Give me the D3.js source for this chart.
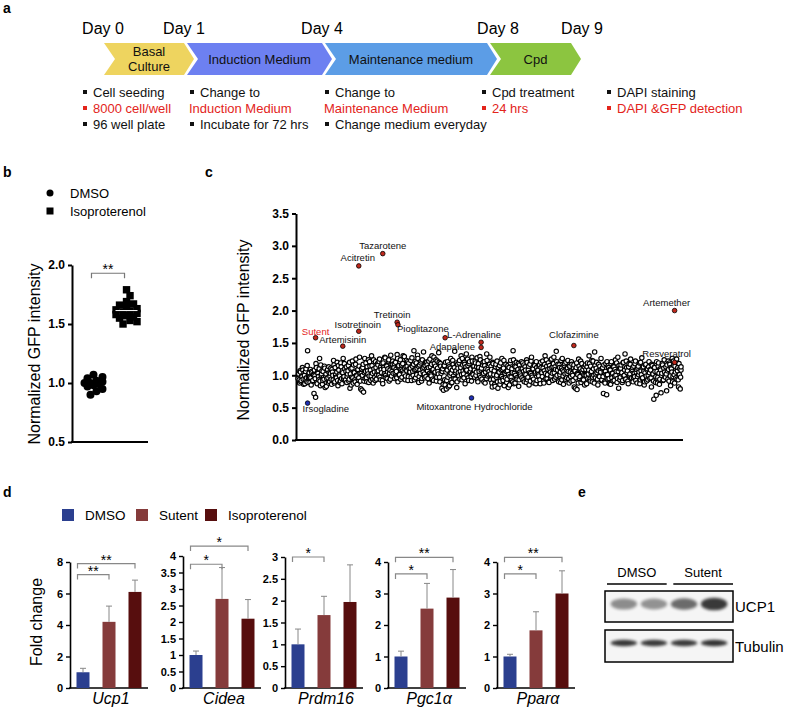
<!DOCTYPE html>
<html><head><meta charset="utf-8">
<script src="https://cdn.jsdelivr.net/npm/d3@7"></script>
<style>body{margin:0;background:#fff} text{font-family:"Liberation Sans",Arial,Helvetica,sans-serif}</style>
</head><body><svg id="fig" width="787" height="712"></svg>
<script>
// ================= DATA =================
// panel a
const dayLabels = ["Day 0","Day 1","Day 4","Day 8","Day 9"];
const dayValues = [0,1,4,8,9];
const phaseNames = [["Basal","Culture"],["Induction Medium"],["Maintenance medium"],["Cpd"]];
const noteColumns = [
  [{t:"Cell seeding",red:false,bullet:true},{t:"8000 cell/well",red:true,bullet:true},{t:"96 well plate",red:false,bullet:true}],
  [{t:"Change to",red:false,bullet:true},{t:"Induction Medium",red:true,bullet:false},{t:"Incubate for 72 hrs",red:false,bullet:true}],
  [{t:"Change to",red:false,bullet:true},{t:"Maintenance Medium",red:true,bullet:false},{t:"Change medium everyday",red:false,bullet:true}],
  [{t:"Cpd treatment",red:false,bullet:true},{t:"24 hrs",red:true,bullet:true}],
  [{t:"DAPI staining",red:false,bullet:true},{t:"DAPI &GFP detection",red:true,bullet:true}]
];
// panel b
const bGroups = ["DMSO","Isoproterenol"];
const bDmso = [1.07,1.05,1.04,1.02,1.01,1.0,1.0,0.99,0.98,0.97,0.95,0.93,0.90];
const bIso = [1.79,1.74,1.69,1.67,1.66,1.64,1.63,1.62,1.61,1.60,1.59,1.58,1.57,1.56,1.55,1.53,1.52,1.50];
const bTicks = [0.5,1.0,1.5,2.0];
// panel c  (two interleaved sets of screening wells, read left to right)
const cTicks = [0,0.5,1,1.5,2,2.5,3,3.5];
const screenValues = [
0.95,1.02,0.88,1.05,0.92,0.98,1.08,0.86,1.00,0.94,1.10,0.90,1.38,0.97,1.04,0.89,0.96,1.06,0.91,1.01,
0.72,0.99,0.66,1.12,0.87,1.03,0.93,1.26,0.84,1.00,1.07,0.92,0.97,1.14,0.81,1.02,0.95,1.09,0.88,1.04,
0.98,1.11,0.86,1.05,0.93,1.16,0.90,1.01,0.96,1.20,0.84,1.08,0.99,0.91,1.13,0.87,1.04,0.95,1.18,0.92,
1.06,0.89,1.02,1.15,0.94,0.80,1.10,0.97,1.22,0.88,1.05,0.93,1.17,1.00,0.86,1.09,0.96,1.28,0.91,1.03,
0.77,1.12,0.74,1.04,0.95,1.19,0.90,1.07,1.24,0.99,1.14,0.92,1.30,1.03,0.88,1.10,0.97,1.21,0.94,1.06,
1.16,1.00,1.25,0.93,1.09,1.18,0.87,1.12,1.02,1.27,0.96,1.14,1.05,1.22,0.91,1.08,1.31,0.99,1.17,1.03,
1.12,0.95,1.20,1.06,1.32,0.90,1.15,1.01,1.24,1.09,0.97,1.18,1.04,1.29,0.93,1.13,1.07,1.21,0.98,1.10,
1.05,1.23,0.92,1.14,1.00,1.38,1.08,0.96,1.19,1.11,1.26,0.89,1.16,1.03,1.22,0.95,1.10,1.36,1.02,1.15,
0.98,1.20,1.07,1.12,0.88,1.25,1.01,1.17,0.94,1.09,1.28,1.04,1.14,0.91,1.22,1.06,1.35,0.97,1.18,1.03,
0.80,1.10,0.77,1.15,0.85,1.05,0.92,1.21,0.82,1.13,1.00,1.26,0.88,1.08,1.17,0.95,1.37,1.04,1.19,0.90,
1.11,0.99,1.23,1.06,1.30,0.93,1.16,1.02,1.20,0.87,1.13,1.08,1.25,0.96,1.18,1.04,1.10,0.91,1.22,1.01,
1.14,0.97,1.19,1.05,1.27,0.90,1.12,1.00,1.24,1.08,0.94,1.16,1.03,1.21,0.88,1.10,1.33,0.99,1.15,1.06,
1.28,0.93,1.09,0.82,1.18,1.01,0.86,1.13,0.97,1.22,0.80,1.05,1.15,0.91,1.08,1.26,0.95,1.11,0.84,1.03,
1.17,0.89,1.07,0.81,1.12,0.98,1.23,0.92,1.04,1.38,0.87,1.14,1.00,1.20,0.94,1.09,0.83,1.16,1.02,1.11,
0.96,1.19,1.06,0.90,1.13,1.01,1.24,0.93,1.08,0.85,1.17,1.03,1.28,0.97,1.10,0.88,1.15,1.05,1.21,0.92,
1.08,0.99,1.16,0.87,1.12,1.04,1.22,0.91,1.07,1.30,0.95,1.14,1.01,1.19,0.89,1.10,0.97,1.25,1.03,1.13,
1.28,0.94,1.09,1.37,1.00,1.17,0.90,1.12,1.05,1.23,0.93,1.08,0.86,1.15,1.02,1.20,0.96,1.11,1.06,0.88,
1.14,0.98,1.21,1.03,0.92,1.16,1.07,0.80,1.12,0.78,1.01,1.25,0.95,1.10,0.89,1.18,1.04,0.93,1.13,1.00,
1.09,0.87,1.19,1.02,1.30,0.94,1.14,1.06,0.90,1.22,1.00,1.36,0.96,1.11,1.04,0.85,1.17,0.98,1.08,1.26,
0.93,1.12,0.72,1.05,0.88,1.18,0.70,1.01,1.15,0.95,1.09,0.86,1.21,1.03,0.91,1.13,0.99,1.24,1.06,0.89,
1.28,0.80,1.10,0.97,1.16,1.04,0.92,1.20,1.00,1.33,0.94,1.12,1.07,0.87,1.18,1.02,1.25,0.96,1.09,0.90,
1.14,0.98,1.22,1.05,0.88,1.11,1.01,1.19,0.93,1.07,1.27,0.96,1.13,0.85,1.04,1.17,0.91,1.10,1.00,1.21,
0.95,1.08,0.82,1.15,1.02,0.63,1.12,0.89,0.69,1.06,0.97,1.19,0.86,1.10,0.73,1.03,1.16,0.93,1.24,0.99,
1.13,0.76,1.07,1.22,0.91,1.17,0.84,1.10,1.26,0.98,1.15,0.88,1.05,1.20,0.94,1.12,0.82,1.01,0.79,1.08
];
const screenValuesB = [
1.01,0.93,1.07,0.90,0.99,1.12,0.94,1.03,0.87,1.06,0.96,1.15,0.89,1.02,0.97,1.09,0.85,1.04,0.92,1.00,
1.08,0.95,1.18,0.89,1.05,0.98,1.10,0.91,1.16,1.02,0.86,1.06,0.94,1.11,0.99,0.83,1.07,0.96,1.13,0.90,
1.03,0.94,1.09,1.00,1.23,0.88,1.12,0.97,1.05,0.92,1.15,1.01,0.89,1.19,0.95,1.07,1.26,0.98,1.10,0.93,
1.13,0.98,1.07,0.91,1.20,1.02,0.85,1.11,0.96,1.16,1.04,0.90,1.25,0.99,1.08,0.93,1.14,1.03,0.79,1.10,
1.00,1.17,0.91,1.26,1.06,0.96,1.13,1.02,0.89,1.21,1.08,0.99,1.15,0.94,1.24,1.05,0.92,1.12,1.01,1.18,
1.07,1.21,0.97,1.13,1.04,0.92,1.19,1.09,1.28,1.00,1.15,0.95,1.10,1.24,1.03,0.94,1.17,1.06,1.22,1.12,
1.18,1.04,1.09,0.96,1.26,1.13,1.00,1.21,0.94,1.16,1.07,1.30,1.02,1.11,0.99,1.23,1.14,0.92,1.19,1.05,
1.11,0.97,1.27,1.06,1.17,0.93,1.21,1.09,1.01,1.31,1.14,0.98,1.08,1.19,0.91,1.24,1.05,1.12,0.96,1.20,
1.09,1.16,0.95,1.22,1.03,1.13,0.99,1.30,1.08,0.92,1.18,1.05,1.24,0.97,1.11,1.02,1.20,0.90,1.14,1.07,
1.06,0.86,1.14,0.93,1.20,0.79,1.08,0.97,1.16,0.84,1.11,1.03,0.89,1.23,0.99,1.12,0.94,1.07,0.81,1.17,
1.04,1.19,0.94,1.12,1.01,1.26,1.07,0.96,1.17,1.09,1.33,1.00,1.15,0.92,1.21,1.06,0.98,1.28,1.03,1.13,
1.08,1.22,1.00,1.13,0.93,1.18,1.06,1.29,0.97,1.11,1.02,1.20,0.90,1.15,1.05,0.95,1.23,1.09,1.01,1.17,
1.02,1.14,0.88,1.20,0.94,1.07,0.83,1.17,1.00,0.90,1.12,1.05,0.86,1.19,0.98,1.09,0.92,1.23,1.04,0.96,
1.06,0.94,1.15,1.01,0.85,1.19,0.97,1.10,0.90,1.24,1.03,0.88,1.13,0.96,1.08,1.18,0.93,1.05,0.99,1.21,
1.10,0.93,1.16,1.02,1.08,0.89,1.20,0.97,1.14,1.04,0.91,1.22,1.00,1.09,0.94,1.17,1.03,0.87,1.12,1.06,
1.01,1.14,0.93,1.20,1.06,0.98,1.11,0.88,1.17,1.03,1.24,0.95,1.09,0.90,1.15,1.05,0.99,1.12,0.92,1.18,
1.04,1.13,0.97,1.21,1.08,0.92,1.16,1.01,0.89,1.11,1.26,0.99,1.06,1.18,0.94,1.09,1.03,1.23,0.95,1.14,
1.05,0.91,1.17,1.00,1.11,0.82,1.07,0.96,1.19,1.03,0.88,1.14,0.98,1.22,1.06,0.93,1.09,1.01,0.85,1.16,
1.00,1.13,0.95,1.08,1.18,0.91,1.04,1.23,0.97,1.10,0.88,1.15,1.02,1.20,0.94,1.07,0.99,1.14,1.05,0.92,
1.10,0.98,1.16,0.90,1.06,1.01,1.21,0.94,1.12,0.87,1.08,1.18,0.96,1.03,1.14,0.92,1.09,1.00,1.19,0.95,
1.06,1.15,0.93,1.11,1.02,0.89,1.19,0.99,1.08,0.94,1.22,1.04,0.91,1.13,1.00,1.17,0.95,1.07,1.12,0.97,
1.03,1.18,0.92,1.09,0.98,1.14,1.05,0.87,1.20,1.01,0.95,1.11,1.06,0.90,1.16,0.99,1.08,0.93,1.13,1.04,
1.09,0.96,1.17,1.02,0.91,1.12,1.06,0.98,1.21,0.88,1.14,1.03,0.94,1.08,1.00,1.18,0.92,1.11,1.05,0.97,
1.02,1.16,0.94,1.09,1.19,0.99,1.12,1.05,0.90,1.22,1.01,1.14,0.96,1.25,1.07,0.93,1.18,1.10,0.97,1.13
];
const hitNames   = ["Tazarotene","Acitretin","Isotretinoin","Tretinoin","Pioglitazone","Sutent","Artemisinin","L-Adrenaline","","Adapalene","Irsogladine","Mitoxantrone Hydrochloride","Clofazimine","Artemether","Resveratrol"];
const hitIndex   = [106,76,76,124,125,22,56,184,229,229,12,217,345,471,471];
const hitValues  = [2.88,2.69,1.68,1.82,1.78,1.58,1.45,1.58,1.51,1.43,0.57,0.65,1.46,2.00,1.20];
const hitKind    = ["up","up","up","up","up","up","up","up","up","up","down","down","up","up","up"];
// panel d
const genes = ["Ucp1","Cidea","Prdm16","Pgc1α","Pparα"];
const treatments = ["DMSO","Sutent","Isoproterenol"];
const meanDmso   = [1.0,1.0,1.0,1.0,1.0];
const meanSutent = [4.2,2.7,1.67,2.52,1.83];
const meanIso    = [6.1,2.1,1.97,2.87,3.0];
const errDmso    = [0.25,0.12,0.35,0.17,0.07];
const errSutent  = [1.0,0.95,0.43,0.8,0.59];
const errIso     = [0.75,0.58,0.85,0.89,0.72];
const yMax       = [8,4,3,4,4];
const yStep      = [2,0.5,0.5,1,1];
const sigGene    = [0,0,1,1,2,3,3,4,4];
const sigTarget  = [1,2,1,2,1,1,2,1,2];
const sigLevel   = [7.2,7.9,3.75,4.3,3.0,3.62,4.15,3.62,4.15];
const sigLabel   = ["**","**","*","*","*","*","**","*","**"];
// panel e
const blotGroups = ["DMSO","Sutent"];
const blotProteins = ["UCP1","Tubulin"];
const ucp1Band = [0.5,0.47,0.66,0.9];
const tubulinBand = [0.92,0.90,0.90,0.93];

// ================= STYLE / LAYOUT =================
const RED = "#e3241b";
const phaseColors = ["#eed45f","#6d80f1","#5c9de6","#8cc540"];
const treatColors = ["#2b3f8f","#853b3b","#570e0e"];
const svg = d3.select("#fig");

[["a",3,13],["b",3,177],["c",205,177],["d",3,497],["e",578,497]].forEach(([l,x,y])=>
  svg.append("text").attr("x",x).attr("y",y).attr("font-size",14).attr("font-weight","bold").text(l));

// ---------- panel a ----------
(function(){
  const g = svg.append("g");
  const dayX = d3.scaleLinear().domain(dayValues).range([104,184,322,487,571]);
  const nudge = [-1,0,0,11,11];
  g.selectAll("text.day").data(dayLabels).join("text")
    .attr("x",(d,i)=>dayX(dayValues[i])+nudge[i]).attr("y",34)
    .attr("text-anchor","middle").attr("font-size",16).text(d=>d);
  const TIP=10, NOTCH=11, GAP=3, Y0=43, Y1=75, ym=59;
  phaseNames.forEach((nm,i)=>{
    const x0 = dayX(dayValues[i]) + (i?GAP:0), x1 = dayX(dayValues[i+1]);
    const pts=[[x0,Y0],[x1,Y0],[x1+TIP,ym],[x1,Y1],[x0,Y1],[x0+NOTCH,ym]];
    g.append("path").attr("d", d3.line()(pts)+"Z").attr("fill",phaseColors[i]);
    const cx=(x0+x1+TIP)/2;
    nm.forEach((s,j)=>{
      g.append("text").attr("x",cx).attr("y", ym+4.5 + (j - (nm.length-1)/2)*15)
       .attr("text-anchor","middle").attr("font-size",13).attr("fill","#111").text(s);
    });
  });
  const bulletX = [83,190,325,482,607];
  const rowY = [97,113,129];
  noteColumns.forEach((col,c)=>{
    col.forEach((n,r)=>{
      const col_ = n.red?RED:"#111";
      if(n.bullet){
        g.append("rect").attr("x",bulletX[c]).attr("y",rowY[r]-7).attr("width",4).attr("height",4).attr("fill",col_);
        g.append("text").attr("x",bulletX[c]+10).attr("y",rowY[r]).attr("font-size",13).attr("fill",col_).text(n.t);
      } else {
        g.append("text").attr("x",bulletX[c]-1).attr("y",rowY[r]).attr("font-size",13).attr("fill",col_).text(n.t);
      }
    });
  });
})();

// ---------- panel b ----------
(function(){
  const g = svg.append("g");
  g.append("circle").attr("cx",50).attr("cy",193).attr("r",3.5).attr("fill","#000");
  g.append("text").attr("x",70).attr("y",197.5).attr("font-size",13).text(bGroups[0]);
  g.append("rect").attr("x",46.5).attr("y",207.5).attr("width",7).attr("height",7).attr("fill","#000");
  g.append("text").attr("x",70).attr("y",215.5).attr("font-size",13).text(bGroups[1]);

  const y = d3.scaleLinear().domain([0.5,2.0]).range([442,265]);
  const x = d3.scalePoint().domain(bGroups).range([72,148]).padding(0.65);
  const ax = g.append("g").attr("transform","translate(72,0)")
    .call(d3.axisLeft(y).tickValues(bTicks).tickFormat(d3.format(".1f")).tickSize(4).tickSizeOuter(0));
  ax.select(".domain").attr("stroke-width",2);
  ax.selectAll(".tick line").attr("stroke-width",2);
  ax.selectAll("text").attr("font-size",12).attr("font-weight","bold").attr("font-family",'"Liberation Sans",Arial,sans-serif').attr("fill","#000");
  g.append("line").attr("x1",71).attr("x2",148).attr("y1",442).attr("y2",442).attr("stroke","#000").attr("stroke-width",2);
  g.append("text").attr("transform","translate(40,354) rotate(-90)").attr("text-anchor","middle").attr("font-size",16).text("Normalized GFP intensity");

  function swarm(vals, cx, dmin, step, maxOff){
    const placed=[];
    vals.slice().sort((a,b)=>b-a).forEach(v=>{
      const py=y(v); let best=null, bestD=-1;
      for(let k=0;k<=2*Math.floor(maxOff/step);k++){
        const off=(k%2?1:-1)*Math.ceil(k/2)*step, px=cx+off;
        const dd=placed.length? d3.min(placed,p=>Math.hypot(p[0]-px,p[1]-py)) : 1e9;
        if(dd>=dmin){best=px;bestD=dd;break;}
        if(dd>bestD){bestD=dd;best=px;}
      }
      placed.push([best,py]);
    });
    return placed;
  }
  swarm(bDmso, x("DMSO"), 6.5, 3, 11).forEach(([px,py])=>
    g.append("circle").attr("cx",px).attr("cy",py).attr("r",4).attr("fill","#000"));
  swarm(bIso, x("Isoproterenol"), 6.5, 3.5, 10.5).forEach(([px,py])=>
    g.append("rect").attr("x",px-3.7).attr("y",py-3.7).attr("width",7.4).attr("height",7.4).attr("fill","#000"));
  const mIso=d3.mean(bIso);
  g.append("line").attr("x1",x("Isoproterenol")-11).attr("x2",x("Isoproterenol")+11).attr("y1",y(mIso)).attr("y2",y(mIso)).attr("stroke","#fff").attr("stroke-width",1);
  const by=y(1.93);
  g.append("path").attr("d",`M${x("DMSO")-2},${by+5}V${by}H${x("Isoproterenol")-2}V${by+5}`).attr("fill","none").attr("stroke","#777").attr("stroke-width",1.2);
  g.append("text").attr("x",(x("DMSO")+x("Isoproterenol"))/2-2).attr("y",by+1).attr("text-anchor","middle").attr("font-size",14).text("**");
})();

// ---------- panel c ----------
(function(){
  const g = svg.append("g");
  const y = d3.scaleLinear().domain([0,3.5]).range([440,213.5]);
  const x = d3.scaleLinear().domain([0,screenValues.length-1]).range([298,681]);
  const ax = g.append("g").attr("transform","translate(296,0)")
    .call(d3.axisLeft(y).tickValues(cTicks).tickFormat(d3.format(".1f")).tickSize(4).tickSizeOuter(0));
  ax.select(".domain").attr("stroke-width",2);
  ax.selectAll(".tick line").attr("stroke-width",2);
  ax.selectAll("text").attr("font-size",12).attr("font-weight","bold").attr("font-family",'"Liberation Sans",Arial,sans-serif').attr("fill","#000");
  g.append("line").attr("x1",295).attr("x2",683).attr("y1",440).attr("y2",440).attr("stroke","#000").attr("stroke-width",2);
  g.append("text").attr("transform","translate(249,330) rotate(-90)").attr("text-anchor","middle").attr("font-size",16).text("Normalized GFP intensity");
  const wells = [];
  screenValues.forEach((v,i)=>{ wells.push([i,v]); if(i<screenValuesB.length) wells.push([i+0.5,screenValuesB[i]]); });
  g.selectAll("circle.s").data(wells).join("circle")
    .attr("cx",d=>Math.min(x(d[0]),681)).attr("cy",d=>y(d[1])).attr("r",2.2)
    .attr("fill","#fff").attr("stroke","#000").attr("stroke-width",1.15);
  const lab = {
    "Tazarotene":[0,-8,"middle"],"Acitretin":[-1,-8,"middle"],"Isotretinoin":[-1,-7,"middle"],
    "Tretinoin":[-5,-8,"middle"],"Pioglitazone":[-1,4,"start"],"Sutent":[0,-6,"middle"],
    "Artemisinin":[0,-6,"middle"],"L-Adrenaline":[2,-3,"start"],"Adapalene":[-6,-1,"end"],
    "Irsogladine":[-5,6,"start"],"Mitoxantrone Hydrochloride":[3,9,"middle"],
    "Clofazimine":[0,-11,"middle"],"Artemether":[-8,-8,"middle"],"Resveratrol":[-8,-9,"middle"]
  };
  hitNames.forEach((n,i)=>{
    const px=x(hitIndex[i]), py=y(hitValues[i]);
    g.append("circle").attr("cx",px).attr("cy",py).attr("r",2.3)
      .attr("fill",hitKind[i]==="up"?"#c0281c":"#1f2fb5").attr("stroke","#000").attr("stroke-width",0.8);
    if(n){
      const [dx,dy,anc]=lab[n];
      g.append("text").attr("x",px+dx).attr("y",py+dy+3.3).attr("text-anchor",anc)
        .attr("font-size",9.5).attr("fill",n==="Sutent"?RED:"#111").text(n);
    }
  });
})();

// ---------- panel d ----------
(function(){
  const g = svg.append("g");
  const legX=[62,136,205];
  treatments.forEach((t,i)=>{
    g.append("rect").attr("x",legX[i]).attr("y",509).attr("width",12).attr("height",12).attr("fill",treatColors[i]);
    g.append("text").attr("x",legX[i]+23).attr("y",520).attr("font-size",13.5).text(t);
  });
  g.append("text").attr("transform","translate(42,622) rotate(-90)").attr("text-anchor","middle").attr("font-size",16).text("Fold change");
  const axisX=[70,183,285,388,497], yTop=[562,556,557,562,562], W=78, Y0=688;
  const means=[meanDmso,meanSutent,meanIso], errs=[errDmso,errSutent,errIso];
  genes.forEach((gene,gi)=>{
    const y=d3.scaleLinear().domain([0,yMax[gi]]).range([Y0,yTop[gi]]);
    const x=d3.scaleBand().domain(treatments).range([axisX[gi],axisX[gi]+W]).paddingInner(0.5).paddingOuter(0.25);
    const fmt=d=> (d%1? d.toFixed(1): d3.format("d")(d));
    const ax=g.append("g").attr("transform",`translate(${axisX[gi]},0)`)
      .call(d3.axisLeft(y).tickValues(d3.range(0,yMax[gi]+1e-6,yStep[gi])).tickFormat(fmt).tickSize(4).tickSizeOuter(0));
    ax.select(".domain").attr("stroke-width",1.6);
    ax.selectAll(".tick line").attr("stroke-width",1.4);
    ax.selectAll("text").attr("font-size",11).attr("font-weight","bold").attr("font-family",'"Liberation Sans",Arial,sans-serif').attr("fill","#000");
    g.append("line").attr("x1",axisX[gi]-1).attr("x2",axisX[gi]+W).attr("y1",Y0).attr("y2",Y0).attr("stroke","#000").attr("stroke-width",1.6);
    treatments.forEach((t,ti)=>{
      const m=means[ti][gi], e=errs[ti][gi], bx=x(t), bw=x.bandwidth();
      g.append("rect").attr("x",bx).attr("y",y(m)).attr("width",bw).attr("height",Y0-y(m)).attr("fill",treatColors[ti]);
      const cx=bx+bw/2;
      g.append("line").attr("x1",cx).attr("x2",cx).attr("y1",y(m)).attr("y2",y(m+e)).attr("stroke","#888").attr("stroke-width",1);
      g.append("line").attr("x1",cx-3).attr("x2",cx+3).attr("y1",y(m+e)).attr("y2",y(m+e)).attr("stroke","#888").attr("stroke-width",1);
    });
    g.append("text").attr("x",axisX[gi]+W/2+2).attr("y",704).attr("text-anchor","middle")
      .attr("font-size",16).attr("font-style","italic").text(gene);
    sigGene.forEach((sg,k)=>{
      if(sg!==gi) return;
      const by=y(sigLevel[k]);
      const x1=x(treatments[0])+1, x2=x(treatments[sigTarget[k]])+x.bandwidth()/2;
      g.append("path").attr("d",`M${x1},${by+5}V${by}H${x2}V${by+5}`).attr("fill","none").attr("stroke","#888").attr("stroke-width",1.2);
      g.append("text").attr("x",(x1+x2)/2).attr("y",by+1).attr("text-anchor","middle").attr("font-size",14).text(sigLabel[k]);
    });
  });
})();

// ---------- panel e ----------
(function(){
  const g = svg.append("g");
  const defs = svg.append("defs");
  defs.append("filter").attr("id","blur").attr("x","-50%").attr("y","-100%").attr("width","200%").attr("height","300%")
    .append("feGaussianBlur").attr("stdDeviation",1.6);
  const lanes = d3.scaleBand().domain([0,1,2,3]).range([607,731]).padding(0.12);
  const grp = d3.scaleBand().domain(blotGroups).range([607,733]).paddingInner(0.1);
  blotGroups.forEach(b=>{
    g.append("text").attr("x",grp(b)+grp.bandwidth()/2).attr("y",577).attr("text-anchor","middle").attr("font-size",13).text(b);
    g.append("line").attr("x1",grp(b)).attr("x2",grp(b)+grp.bandwidth()).attr("y1",584).attr("y2",584).attr("stroke","#000").attr("stroke-width",1.3);
  });
  const boxes=[[591,622,ucp1Band,604,4.5],[630,662,tubulinBand,643,3.2]];
  boxes.forEach(([y0,y1,band,yc,ry],bi)=>{
    g.append("rect").attr("x",605).attr("y",y0).attr("width",128).attr("height",y1-y0).attr("fill","#f5f5f5");
    band.forEach((v,li)=>{
      const cx=lanes(li)+lanes.bandwidth()/2;
      g.append("ellipse").attr("cx",cx).attr("cy",yc).attr("rx",lanes.bandwidth()/2).attr("ry",ry+(bi===0? v*2:0))
        .attr("fill","#000").attr("opacity",v*0.85).attr("filter","url(#blur)");
    });
    g.append("rect").attr("x",605).attr("y",y0).attr("width",128).attr("height",y1-y0).attr("fill","none").attr("stroke","#000").attr("stroke-width",1.5);
    g.append("text").attr("x",735).attr("y",(y0+y1)/2+5.5).attr("font-size",15).text(blotProteins[bi]);
  });
})();
</script></body></html>
